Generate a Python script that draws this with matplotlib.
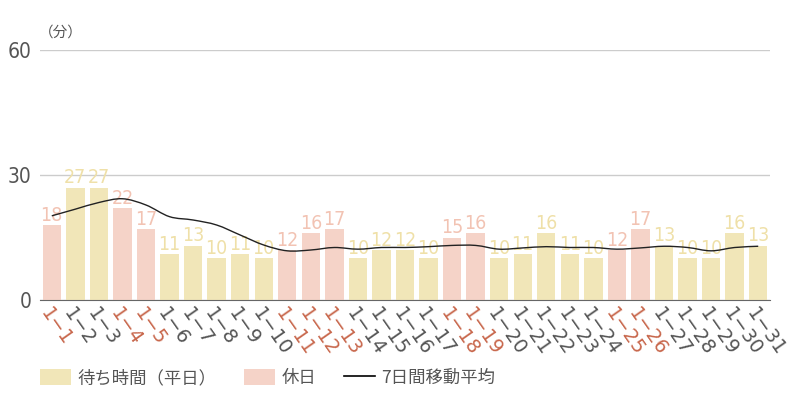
import numpy as np
import matplotlib.pyplot as plt
from matplotlib.path import Path
from matplotlib.patches import PathPatch, Patch
from matplotlib.lines import Line2D

plt.rcParams['font.family'] = ['Noto Sans CJK JP', 'DejaVu Sans']

days = [f"1−{d}" for d in range(1, 32)]
wait = [18, 27, 27, 22, 17, 11, 13, 10, 11, 10, 12, 16, 17, 10, 12, 12,
        10, 15, 16, 10, 11, 16, 11, 10, 12, 17, 13, 10, 10, 16, 13]
holidays = [1, 4, 5, 11, 12, 13, 18, 19, 25, 26]
moving_avg = [20.2, 21.8, 23.4, 24.3, 22.8, 20.0, 19.2, 18.0, 15.6, 13.2,
              11.8, 12.0, 12.6, 12.2, 12.6, 12.6, 12.8, 13.1, 13.1, 12.2,
              12.5, 12.8, 12.6, 12.6, 12.2, 12.5, 12.9, 12.6, 11.8, 12.6, 12.9]

C_WEEK = "#f1e6b8"
C_HOL = "#f5d3c8"
C_WEEK_TXT = "#efe0a8"
C_HOL_TXT = "#f2c3b3"
C_HOL_TICK = "#c8674c"
C_GRAY = "#555555"


def smooth_path(x, y):
    # Catmull-Rom through the points, drawn as cubic Bezier segments
    verts = [(x[0], y[0])]
    codes = [Path.MOVETO]
    n = len(x)
    for i in range(n - 1):
        x0, y0 = (x[i - 1], y[i - 1]) if i > 0 else (x[i], y[i])
        x3, y3 = (x[i + 2], y[i + 2]) if i + 2 < n else (x[i + 1], y[i + 1])
        x1, y1 = x[i], y[i]
        x2, y2 = x[i + 1], y[i + 1]
        verts += [(x1 + (x2 - x0) / 6, y1 + (y2 - y0) / 6),
                  (x2 - (x3 - x1) / 6, y2 - (y3 - y1) / 6),
                  (x2, y2)]
        codes += [Path.CURVE4] * 3
    return Path(verts, codes)


fig = plt.figure(figsize=(8, 4), dpi=100)
ax = fig.add_axes([0.05, 0.25, 0.9125, 0.625])

x = np.arange(len(days))
is_hol = [(i + 1) in holidays for i in x]
colors = [C_HOL if h else C_WEEK for h in is_hol]
ax.bar(x, wait, width=0.78, color=colors, zorder=2)

for xi, v, h in zip(x, wait, is_hol):
    ax.text(xi, v + 0.1, str(v), ha="center", va="bottom", fontsize=14,
            color=C_HOL_TXT if h else C_WEEK_TXT, family="DejaVu Sans",
            stretch="condensed", zorder=3)

ax.add_patch(PathPatch(smooth_path(x, moving_avg), fill=False,
                       edgecolor="#222222", lw=1.0, zorder=4))

ax.set_xlim(-0.5, len(days) - 0.5)
ax.set_ylim(0, 60)
ax.set_yticks([0, 30, 60])
ax.set_yticklabels(["0", "30", "60"], family="DejaVu Sans", stretch="condensed",
                   fontsize=15, color=C_GRAY)
ax.tick_params(axis="y", length=0, pad=6)
ax.tick_params(axis="x", length=0, pad=3)
ax.grid(axis="y", color="#cccccc", lw=1, zorder=0)
for s in ["top", "right", "left"]:
    ax.spines[s].set_visible(False)
ax.spines["bottom"].set_color("#666666")
ax.spines["bottom"].set_zorder(5)

ax.set_xticks(x)
ax.set_xticklabels(days, rotation=-55, ha="left", va="top",
                   rotation_mode="anchor", fontsize=14, family="DejaVu Sans")
for lab, h in zip(ax.get_xticklabels(), is_hol):
    lab.set_color(C_HOL_TICK if h else C_GRAY)

fig.text(0.048, 0.918, "（分）", fontsize=10.5, color=C_GRAY, ha="left", va="center")

handles = [Patch(facecolor=C_WEEK, edgecolor="none"),
           Patch(facecolor=C_HOL, edgecolor="none"),
           Line2D([], [], color="black", lw=1.2)]
labels = ["待ち時間（平日）", "休日", "7日間移動平均"]
fig.legend(handles, labels, loc="center left", bbox_to_anchor=(0.05, 0.055),
           ncol=3, frameon=False, fontsize=12.5, labelcolor=C_GRAY,
           handlelength=1.8, handleheight=1.0, handletextpad=0.35,
           columnspacing=1.6, borderpad=0, borderaxespad=0)

fig.savefig("out.png", dpi=100)
